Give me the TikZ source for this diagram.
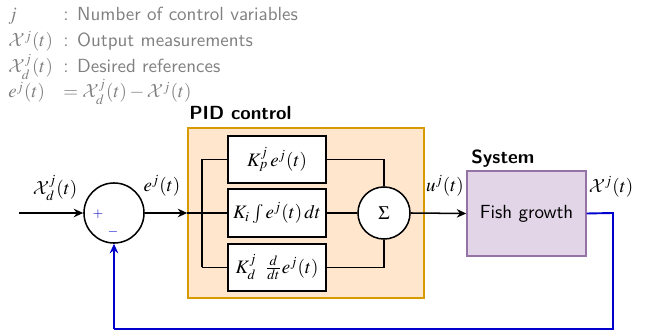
\documentclass[tikz,border=0pt]{standalone}
\usepackage{mathptmx}
\DeclareMathAlphabet{\mathcal}{OMS}{cmsy}{m}{n}
\renewcommand{\familydefault}{\sfdefault}
\usetikzlibrary{arrows.meta}
\definecolor{pidfill}{HTML}{FFE6CC}
\definecolor{piddraw}{HTML}{D79B00}
\definecolor{sysfill}{HTML}{E1D5E7}
\definecolor{sysdraw}{HTML}{9673A6}
\definecolor{fb}{HTML}{0000CC}
\definecolor{legend}{HTML}{808080}
\tikzset{
  wire/.style={line width=0.8pt, black},
  arr/.style={wire, -{Stealth[length=5pt,width=4.5pt]}},
  fbwire/.style={line width=1pt, fb},
  fbarr/.style={fbwire, -{Stealth[length=5pt,width=4.5pt]}},
  blockbox/.style={draw, line width=0.8pt, fill=white, minimum width=51.6pt, minimum height=25pt, inner sep=0pt},
  sumcirc/.style={draw, circle, line width=0.8pt, fill=white, inner sep=0pt},
  leg/.style={anchor=base west, text=legend, inner sep=0pt},
  lbl/.style={inner sep=0pt},
  title/.style={anchor=base west, font=\bfseries, inner sep=0pt}
}
\newcommand{\legcol}[1]{\makebox[29pt][l]{#1}}
\begin{document}
\begin{tikzpicture}[x=0.5263pt, y=-0.5263pt]
\useasboundingbox (0,0) rectangle (652,335);
% legend
\node[leg] (l1) at (8,21) {\legcol{$j$}: Number of control variables};
\node[leg] (l2) at (8,47) {\legcol{$\mathcal{X}^j(t)$}: Output measurements};
\node[leg] (l3) at (8,73) {\legcol{$\mathcal{X}_d^j(t)$}: Desired references};
\node[leg] (l4) at (8,98) {\legcol{$e^j(t)$}$=\mathcal{X}_d^j(t)-\mathcal{X}^j(t)$};
% PID box
\node[draw=piddraw, fill=pidfill, line width=0.8pt, minimum width=124.2pt, minimum height=89.5pt, inner sep=0pt] (pid) at (306,213) {};
\node[title] (pidt) at (189,120) {PID control};
% sum
\node[sumcirc, minimum size=31.6pt] (sum) at (114,213) {};
\node[lbl, text=fb, font=\scriptsize] (plus) at (98,214) {$+$};
\node[lbl, text=fb, font=\scriptsize] (minus) at (113,232) {$-$};
% blocks
\node[blockbox] (kp) at (277,159.5) {$K_p^j\,e^j(t)$};
\node[blockbox] (ki) at (277,213) {$K_i\int e^j(t)\,dt$};
\node[blockbox] (kd) at (277,267.5) {$K_d^j\;\;\frac{d}{dt}e^j(t)$};
\node[sumcirc, minimum size=27.4pt] (sig) at (384,213) {$\Sigma$};
% system
\node[draw=sysdraw, fill=sysfill, line width=0.8pt, minimum width=62.6pt, minimum height=44.7pt, inner sep=0pt] (sys) at (526.5,213.5) {Fish growth};
\node[title] (syst) at (471,164) {System};
% coordinates
\coordinate (in) at (19,213);
\coordinate (sptop) at (202,159.5);
\coordinate (spbot) at (202,267.5);
\coordinate (kpc) at (384,159.5);
\coordinate (kdc) at (384,267.5);
\coordinate (fb1) at (613,213);
\coordinate (fb2) at (613,329);
\coordinate (fb3) at (114,329);
% wires
\draw[arr] (in) -- (sum.west);
\draw[arr] (sum.east) -- (pid.west);
\draw[wire] (pid.west) -- (ki.west);
\draw[wire] (sptop) -- (spbot);
\draw[wire] (sptop) -- (kp.west);
\draw[wire] (spbot) -- (kd.west);
\draw[wire] (kp.east) -- (kpc) -- (sig.north);
\draw[wire] (ki.east) -- (sig.west);
\draw[wire] (kd.east) -- (kdc) -- (sig.south);
\draw[arr] (sig.east) -- (sys.west);
\draw[fbwire] (sys.east) -- (fb1) -- (fb2) -- (fb3);
\draw[fbarr] (fb3) -- (sum.south);
% labels
\node[lbl] (xd) at (55,188) {$\mathcal{X}_d^j(t)$};
\node[lbl] (el) at (162,186) {$e^j(t)$};
\node[lbl] (ul) at (445,186) {$u^j(t)$};
\node[lbl] (xl) at (611,187) {$\mathcal{X}^j(t)$};
\end{tikzpicture}
\end{document}
